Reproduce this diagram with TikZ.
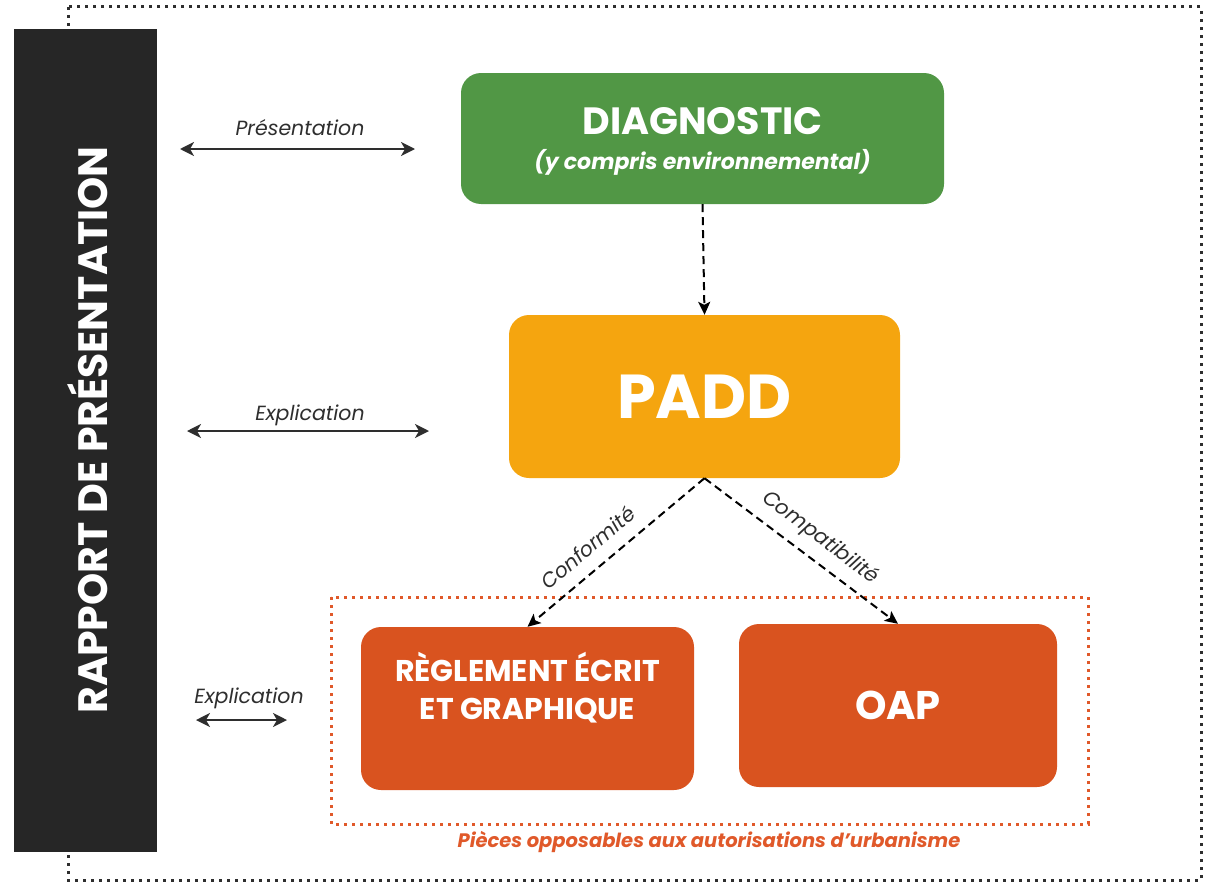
\documentclass[tikz,border=0pt]{standalone}
\usepackage{fontspec}
\setmainfont{Poppins}
\usetikzlibrary{arrows.meta}
\definecolor{dgreen}{HTML}{519745}
\definecolor{padd}{HTML}{F5A50F}
\definecolor{rouge}{HTML}{D9531F}
\definecolor{rougedot}{HTML}{E0592A}
\definecolor{bar}{HTML}{262626}
\definecolor{ink}{HTML}{2E2E2E}
\tikzset{
  box/.style={rounded corners=20pt, minimum width=#1, inner sep=0pt, text=white, align=center},
  dblarrow/.style={line width=2pt, draw=ink, {Stealth[length=14pt,width=14pt,inset=4pt]}-{Stealth[length=14pt,width=14pt,inset=4pt]}},
  dasharrow/.style={line width=2pt, draw=black, dash pattern=on 8pt off 5pt, -{Stealth[length=13pt,width=12pt,inset=3pt]}},
  lbl/.style={font=\fontsize{20.5}{22}\selectfont\itshape, text=ink, inner sep=0pt},
  dotline/.style={line width=3pt, dash pattern=on 3pt off 5pt},
}
\begin{document}
\begin{tikzpicture}[x=1pt,y=-1pt]
\useasboundingbox (0,0) rectangle (1209,883);
% outer dotted frame
\draw[dotline, draw=ink] (68,7) rectangle (1201,880);
% left bar
\node[fill=bar, minimum width=143pt, minimum height=823pt, inner sep=0pt] (bar) at (85.5,440.5) {};
\node[rotate=90, text=white, font=\fontsize{41}{44}\selectfont\bfseries, inner sep=0pt] (bartxt) at (88,430) {RAPPORT DE PRÉSENTATION};
% orange dotted frame
\draw[dotline, draw=rougedot] (331,597) rectangle (1088,824);
\node[font=\fontsize{19.5}{22}\selectfont\bfseries\itshape, text=rougedot, inner sep=0pt] (pieces) at (709,842) {Pièces opposables aux autorisations d’urbanisme};
% boxes
\node[box=483pt, minimum height=131pt, fill=dgreen] (diag) at (702.5,138.5) {};
\node[text=white, align=center, inner sep=0pt] (diagtxt) at ([yshift=-3pt]diag.center)
  {{\fontsize{38}{40}\selectfont\bfseries DIAGNOSTIC}\\[14pt]{\fontsize{22}{24}\selectfont\bfseries\itshape (y compris environnemental)}};
\node[box=391pt, minimum height=163pt, fill=padd, font=\fontsize{62}{66}\selectfont\bfseries] (padd) at (704.5,396.5) {PADD};
\node[box=333pt, minimum height=163pt, fill=rouge] (reg) at (527.5,708.5) {};
\node[text=white, align=center, font=\fontsize{30}{38}\selectfont\bfseries, inner sep=0pt] (regtxt) at ([yshift=21pt]reg.center) {RÈGLEMENT ÉCRIT\\ET GRAPHIQUE};
\node[box=318pt, minimum height=163pt, fill=rouge, font=\fontsize{40}{44}\selectfont\bfseries] (oap) at (898,705.5) {OAP};
% dashed connectors
\draw[dasharrow] (diag.south) -- (padd.north);
\draw[dasharrow] (padd.south) -- (reg.north) node[lbl, pos=0.58, sloped, above=13pt] {Conformité};
\draw[dasharrow] (padd.south) -- (oap.north) node[lbl, pos=0.53, sloped, above=10pt] {Compatibilité};
% left double arrows
\coordinate (p1) at (180,149); \coordinate (p2) at (415,149);
\draw[dblarrow] (p1) -- (p2);
\node[lbl] (lp) at (300,128) {Présentation};
\coordinate (e1) at (187,431); \coordinate (e2) at (429,431);
\draw[dblarrow] (e1) -- (e2);
\node[lbl] (le) at (310,415) {Explication};
\coordinate (f1) at (196,720); \coordinate (f2) at (287,720);
\draw[dblarrow] (f1) -- (f2);
\node[lbl] (lf) at (249,698) {Explication};
\end{tikzpicture}
\end{document}
